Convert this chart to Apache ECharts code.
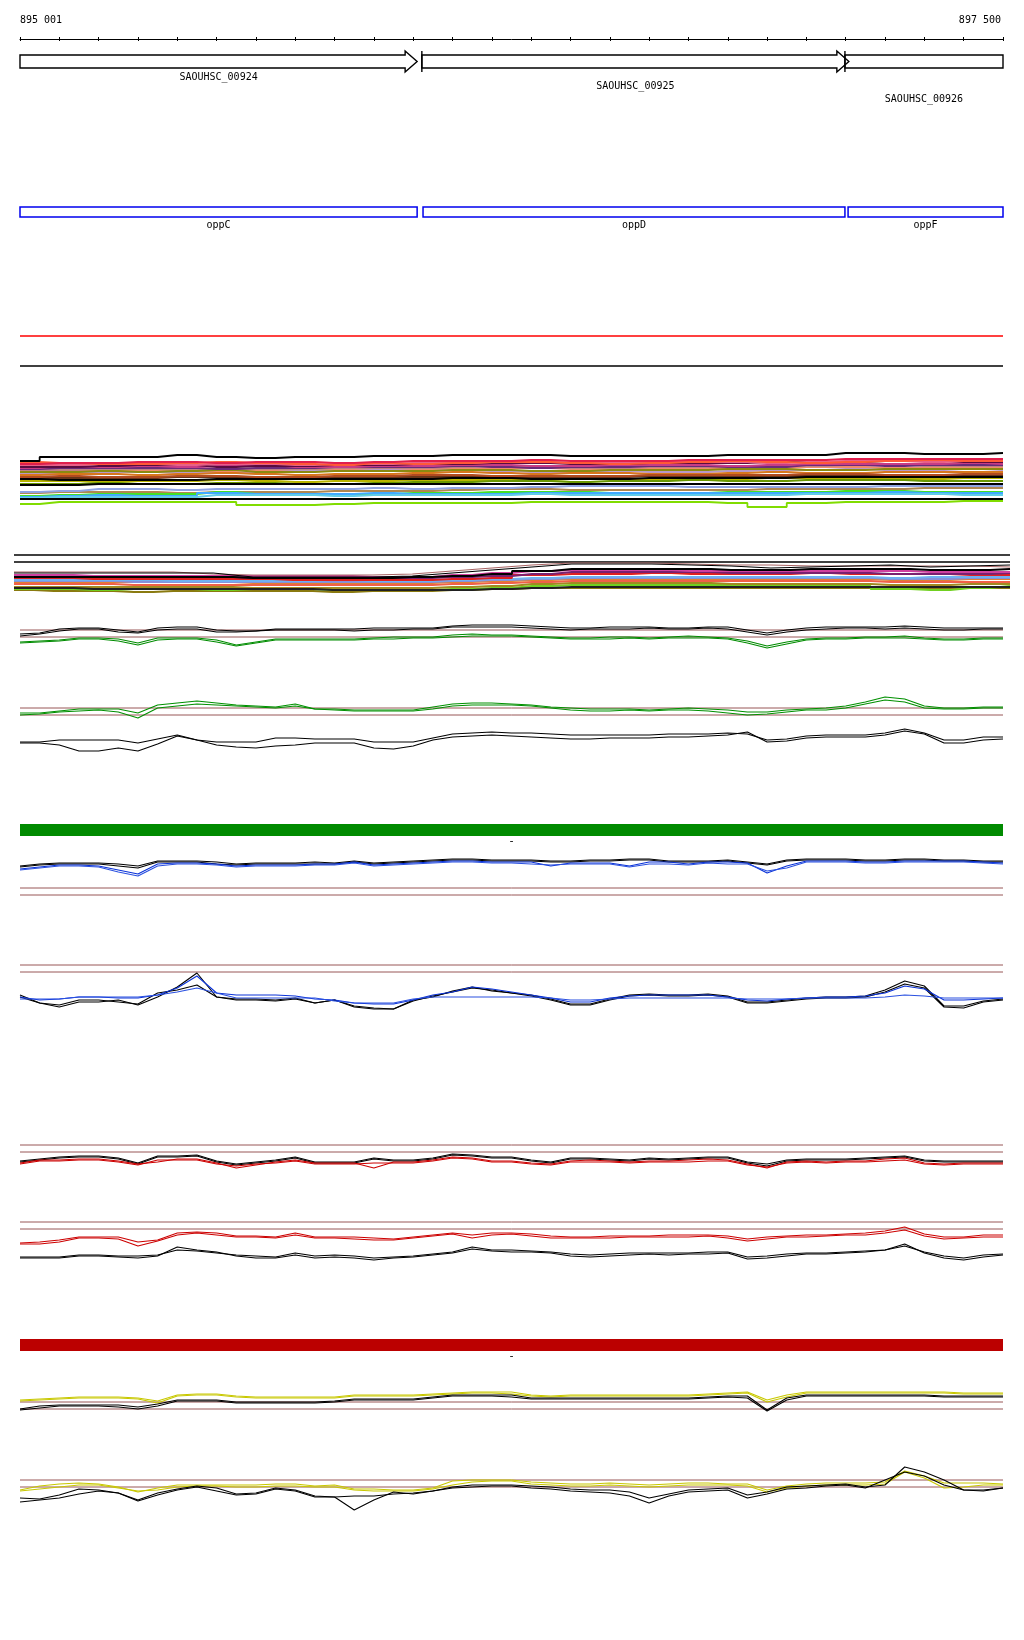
<!DOCTYPE html>
<html>
<head>
<meta charset="utf-8">
<title>895 001 - 897 500</title>
<script src="https://cdn.jsdelivr.net/npm/echarts@6/dist/echarts.min.js"></script>
<style>
  html, body { margin: 0; padding: 0; background: #fff; }
  #chart { width: 1024px; height: 1640px; }
</style>
</head>
<body>
<div id="chart"></div>
<script>
// positions are bp offsets from 895 000
const regionLabels = ['895 001', '897 500']

const geneNames = ['SAOUHSC_00924', 'SAOUHSC_00925', 'SAOUHSC_00926']
const geneStarts = [0, 1022, 2098]
const geneEnds = [1010, 2108, 2500]

const protNames = ['oppC', 'oppD', 'oppF']
const protStarts = [0, 1025, 2106]
const protEnds = [1010, 2098, 2500]

const barLabels = ['-', '-']
const barSpan = [0, 2500]

const P50 = [0,50,100,150,200,250,300,350,400,450,500,550,600,650,700,750,800,850,900,950,
  1000,1050,1100,1150,1200,1250,1300,1350,1400,1450,1500,1550,1600,1650,1700,1750,1800,1850,1900,1950,
  2000,2050,2100,2150,2200,2250,2300,2350,2400,2450,2500]
const P100 = [0,100,200,300,400,500,600,700,800,900,1000,1100,1200,1300,1400,1500,1600,1700,1800,1900,
  2000,2100,2200,2300,2400,2500]

// separator lines
const sepRed = 1.5
const sepBlack = -1.5

// band A (stacked profiles)
const aBlack1 = [1.9,2.3,2.3,2.3,2.5,2.3,2.2,2.3,2.3,2.4,2.4,2.5,2.5,2.5,2.4,2.4,2.4,2.4,2.5,2.5,2.5,2.7,2.7,2.6,2.6,2.7]
const aCrimson = [1.6,1.7,1.7,1.8,1.8,1.7,1.8,1.8,1.7,1.8,1.9,1.9,1.9,2.0,1.9,1.9,1.9,2.0,2.0,2.0,2.0,2.1,2.1,2.1,2.1,2.1]
const aPink = [1.5,1.5,1.6,1.6,1.5,1.6,1.6,1.5,1.6,1.6,1.7,1.7,1.8,1.8,1.7,1.7,1.8,1.8,1.8,1.7,1.8,1.9,1.9,1.8,1.9,1.9]
const aMaroon = [1.3,1.3,1.4,1.5,1.5,1.3,1.4,1.4,1.5,1.5,1.6,1.6,1.7,1.7,1.6,1.6,1.7,1.7,1.7,1.8,1.8,1.8,1.9,1.9,1.8,1.8]
const aMagenta = [1.2,1.4,1.3,1.4,1.3,1.4,1.5,1.3,1.3,1.4,1.4,1.5,1.5,1.4,1.4,1.5,1.5,1.5,1.4,1.5,1.6,1.6,1.6,1.6,1.7,1.6]
const aPurple = [1.1,1.2,1.2,1.2,1.2,1.1,1.2,1.2,1.3,1.3,1.3,1.4,1.3,1.2,1.3,1.3,1.4,1.4,1.3,1.3,1.5,1.5,1.4,1.5,1.5,1.5]
const aOrangeRed = [1.8,1.7,1.6,1.6,1.7,1.8,1.7,1.6,1.5,1.7,1.6,1.7,1.8,1.8,1.7,1.6,1.7,1.8,1.9,1.8,1.7,1.8,1.9,2.0,1.9,1.9]
const aRosy = [1.0,1.0,1.1,1.1,1.0,1.0,1.1,1.1,1.2,1.2,1.2,1.3,1.4,1.3,1.2,1.2,1.3,1.3,1.4,1.4,1.4,1.5,1.5,1.4,1.4,1.4]
const aSalmon = [0.9,0.9,1.0,1.0,0.9,0.9,1.0,1.0,1.0,1.1,1.1,1.1,1.2,1.2,1.1,1.1,1.1,1.2,1.2,1.2,1.3,1.3,1.2,1.2,1.3,1.3]
const aOlive = [0.8,0.8,0.9,0.8,0.9,1.0,0.8,0.8,0.9,0.9,0.9,1.0,1.0,0.9,0.9,1.0,1.0,1.0,1.1,1.1,1.0,1.0,1.1,1.1,1.1,1.1]
const aOrange = [0.5,0.6,0.6,0.5,0.6,0.7,0.6,0.5,0.6,0.6,0.7,0.8,0.7,0.6,0.7,0.7,0.6,0.6,0.7,0.8,0.7,0.7,0.8,0.8,0.8,0.8]
const aMauve = [0.6,0.7,0.8,0.8,0.7,0.7,0.8,0.9,0.9,1.0,0.9,1.0,0.9,0.8,0.8,0.9,0.8,0.8,0.9,1.0,1.0,1.1,1.0,1.0,1.1,1.0]
const aBrownRed = [0.3,0.4,0.3,0.3,0.4,0.4,0.3,0.3,0.4,0.4,0.5,0.5,0.4,0.4,0.4,0.4,0.5,0.5,0.5,0.5,0.6,0.6,0.5,0.5,0.6,0.6]
const aDarkBrown = [0.2,0.2,0.2,0.2,0.3,0.3,0.2,0.2,0.2,0.3,0.3,0.3,0.3,0.3,0.3,0.3,0.4,0.4,0.4,0.4,0.4,0.4,0.4,0.4,0.4,0.5]
const aBlack2 = [0.1,0.0,0.0,0.0,0.0,0.1,0.1,0.1,0.1,0.1,0.1,0.2,0.2,0.1,0.1,0.1,0.2,0.2,0.2,0.2,0.3,0.3,0.3,0.3,0.3,0.3]
const aGold = [-0.1,-0.1,-0.2,-0.1,-0.1,0.0,-0.1,-0.2,-0.1,-0.1,0.0,0.0,0.0,0.0,0.1,0.1,0.1,0.1,0.1,0.2,0.2,0.2,0.1,0.1,0.2,0.2]
const aOliveGreen = [-0.4,-0.4,-0.3,-0.4,-0.4,-0.3,-0.3,-0.4,-0.4,-0.3,-0.2,-0.2,-0.1,-0.1,-0.2,-0.1,-0.1,0.0,-0.1,-0.1,0.0,0.0,0.0,-0.1,-0.1,-0.1]
const aBlack3 = [-0.5,-0.5,-0.4,-0.4,-0.4,-0.4,-0.4,-0.4,-0.4,-0.4,-0.4,-0.4,-0.4,-0.4,-0.4,-0.4,-0.4,-0.4,-0.4,-0.4,-0.4,-0.4,-0.4,-0.4,-0.4,-0.4]
const aPeriwinkle = [-1.2,-1.1,-0.9,-0.9,-1.0,-0.9,-0.9,-0.9,-0.9,-0.8,-0.9,-0.8,-0.8,-0.7,-0.6,-0.6,-0.6,-0.7,-0.7,-0.7,-0.7,-0.7,-0.6,-0.6,-0.6,-0.6]
const aTan = [-1.3,-1.2,-1.2,-1.2,-1.3,-1.2,-1.2,-1.2,-1.1,-1.1,-1.1,-1.0,-0.9,-0.9,-1.0,-1.0,-1.0,-1.0,-1.0,-0.9,-0.9,-0.9,-0.9,-0.8,-0.8,-0.8]
const aGreen = [-1.6,-1.5,-1.4,-1.4,-1.4,-1.2,-1.4,-1.5,-1.4,-1.4,-1.3,-1.3,-1.2,-1.2,-1.2,-1.3,-1.3,-1.3,-1.2,-1.2,-1.2,-1.1,-1.1,-1.2,-1.2,-1.2]
const aLightBlue = [-1.7,-1.6,-1.5,-1.6,-1.6,-1.3,-1.4,-1.4,-1.4,-1.3,-1.4,-1.4,-1.4,-1.3,-1.3,-1.3,-1.3,-1.3,-1.3,-1.3,-1.3,-1.3,-1.2,-1.3,-1.3,-1.3]
const aCyan = [-1.8,-1.7,-1.7,-1.7,-1.7,-1.5,-1.5,-1.5,-1.6,-1.5,-1.5,-1.5,-1.5,-1.4,-1.5,-1.5,-1.5,-1.5,-1.5,-1.5,-1.4,-1.4,-1.4,-1.4,-1.5,-1.5]
const aBlack4 = [-1.9,-1.9,-1.9,-1.9,-1.9,-1.9,-1.9,-1.9,-1.9,-1.9,-1.9,-1.9,-1.9,-1.9,-1.9,-1.9,-1.9,-1.9,-1.9,-1.9,-1.9,-1.9,-1.9,-1.9,-1.9,-1.9]
const aLime = [-2.4,-2.2,-2.2,-2.2,-2.2,-2.2,-2.5,-2.5,-2.4,-2.3,-2.3,-2.3,-2.3,-2.2,-2.2,-2.2,-2.2,-2.2,-2.3,-2.7,-2.3,-2.2,-2.2,-2.2,-2.1,-2.1]

// band B
const bFlat = [2.0, 1.3]
const bBlackTop = [0.2,0.2,0.2,0.2,0.2,0.2,-0.2,-0.2,-0.2,-0.2,-0.1,0.2,0.5,0.8,1.1,1.1,1.1,1.0,0.9,0.7,0.8,0.9,1.0,0.8,0.9,1.0]
const bRosyTop = [0.3,0.3,0.3,0.3,0.3,0.1,0.0,0.0,0.0,0.0,0.1,0.4,0.7,1.0,1.2,1.2,1.2,1.1,1.0,1.0,0.9,0.9,0.9,0.9,0.9,0.8]
const bBlack2 = [-0.2,-0.2,-0.2,-0.2,-0.2,-0.2,-0.3,-0.3,-0.3,-0.3,-0.2,-0.1,0.1,0.4,0.6,0.6,0.6,0.6,0.5,0.5,0.6,0.6,0.6,0.5,0.5,0.6]
const bMagenta = [0.0,0.0,-0.1,-0.1,-0.1,-0.1,-0.1,-0.1,-0.1,-0.2,-0.2,0.0,0.2,0.4,0.5,0.5,0.5,0.4,0.4,0.4,0.4,0.4,0.4,0.3,0.3,0.3]
const bPurple = [-0.1,-0.2,-0.2,-0.2,-0.2,-0.2,-0.3,-0.3,-0.3,-0.3,-0.3,-0.2,-0.1,0.1,0.3,0.3,0.3,0.3,0.2,0.2,0.2,0.2,0.1,0.1,0.1,0.2]
const bRed = [-0.3,-0.3,-0.4,-0.4,-0.4,-0.4,-0.4,-0.5,-0.5,-0.5,-0.5,-0.4,-0.3,0.0,0.1,0.1,0.2,0.1,0.1,0.1,0.2,0.1,0.1,0.1,0.0,0.0]
const bLightBlue = [-0.5,-0.5,-0.5,-0.5,-0.6,-0.6,-0.6,-0.6,-0.5,-0.6,-0.6,-0.5,-0.4,-0.3,-0.2,-0.2,-0.2,-0.2,-0.2,-0.2,-0.2,-0.2,-0.3,-0.2,-0.2,-0.2]
const bPeriwinkle = [-0.6,-0.6,-0.6,-0.7,-0.7,-0.7,-0.7,-0.7,-0.7,-0.7,-0.7,-0.6,-0.5,-0.4,-0.3,-0.3,-0.3,-0.3,-0.3,-0.3,-0.3,-0.3,-0.4,-0.4,-0.3,-0.3]
const bOrange = [-0.7,-0.7,-0.7,-0.7,-0.7,-0.7,-0.8,-0.8,-0.8,-0.8,-0.8,-0.7,-0.6,-0.5,-0.4,-0.4,-0.4,-0.4,-0.4,-0.4,-0.4,-0.4,-0.5,-0.5,-0.4,-0.4]
const bCoral = [-0.9,-0.9,-0.9,-1.0,-1.0,-1.0,-1.0,-1.0,-1.0,-1.0,-1.0,-0.9,-0.8,-0.7,-0.6,-0.6,-0.6,-0.6,-0.6,-0.6,-0.6,-0.6,-0.7,-0.7,-0.7,-0.7]
const bOlive = [-1.2,-1.2,-1.2,-1.2,-1.2,-1.2,-1.3,-1.3,-1.3,-1.3,-1.3,-1.2,-1.1,-0.9,-0.8,-0.8,-0.8,-0.8,-0.9,-0.9,-0.9,-0.9,-1.0,-1.0,-0.9,-0.9]
const bBlackLow = [-1.3,-1.3,-1.4,-1.4,-1.4,-1.4,-1.4,-1.4,-1.5,-1.5,-1.5,-1.5,-1.4,-1.3,-1.2,-1.2,-1.2,-1.2,-1.2,-1.2,-1.2,-1.2,-1.2,-1.2,-1.2,-1.2]
const bLime = [-1.4,-1.4,-1.5,-1.4,-1.4,-1.5,-1.4,-1.4,-1.5,-1.5,-1.5,-1.4,-1.3,-1.1,-1.0,-1.0,-1.0,-1.0,-1.0,-1.1,-1.1,-1.1,-1.4,-1.5,-1.3,-1.1]
const bBrownOlive = [-1.5,-1.6,-1.6,-1.7,-1.6,-1.6,-1.6,-1.6,-1.7,-1.6,-1.6,-1.5,-1.4,-1.3,-1.3,-1.3,-1.3,-1.3,-1.3,-1.3,-1.3,-1.3,-1.3,-1.3,-1.3,-1.3]

// track C
const cRefs = [0.5, -0.2]
const cBlack1 = [0.1,0.2,0.6,0.7,0.7,0.5,0.3,0.7,0.8,0.8, 0.5,0.4,0.4,0.6,0.6,0.6,0.6,0.6,0.7,0.7, 0.7,0.7,0.9,1.0,1.0,1.0,0.9,0.8,0.7,0.7, 0.8,0.8,0.8,0.7,0.7,0.8,0.8,0.5,0.2,0.5, 0.7,0.8,0.8,0.8,0.8,0.9,0.8,0.7,0.7,0.7, 0.7]
const cBlack2 = [-0.1,0.1,0.4,0.6,0.6,0.3,0.2,0.5,0.6,0.6, 0.3,0.3,0.4,0.5,0.5,0.5,0.5,0.4,0.5,0.5, 0.6,0.6,0.8,0.8,0.8,0.8,0.7,0.6,0.5,0.6, 0.6,0.6,0.7,0.6,0.6,0.7,0.6,0.3,0.0,0.3, 0.5,0.6,0.7,0.7,0.6,0.7,0.6,0.5,0.5,0.6, 0.6]
const cGreen1 = [-0.7,-0.6,-0.5,-0.3,-0.3,-0.4,-0.8,-0.3,-0.3,-0.3, -0.5,-1.0,-0.7,-0.4,-0.4,-0.4,-0.4,-0.4,-0.3,-0.2, -0.2,-0.2,0.0,0.1,0.0,0.0,-0.1,-0.2,-0.3,-0.3, -0.2,-0.2,-0.3,-0.2,-0.1,-0.2,-0.3,-0.6,-1.1,-0.7, -0.4,-0.3,-0.3,-0.2,-0.2,-0.1,-0.3,-0.4,-0.4,-0.3, -0.3]
const cGreen2 = [-0.8,-0.7,-0.6,-0.4,-0.4,-0.6,-1.0,-0.5,-0.4,-0.4, -0.7,-1.1,-0.8,-0.5,-0.5,-0.5,-0.5,-0.5,-0.4,-0.4, -0.3,-0.3,-0.2,-0.1,-0.1,-0.1,-0.2,-0.3,-0.4,-0.4, -0.4,-0.3,-0.4,-0.3,-0.3,-0.3,-0.4,-0.8,-1.3,-0.9, -0.5,-0.4,-0.4,-0.3,-0.3,-0.3,-0.4,-0.5,-0.5,-0.4, -0.4]

// track D
const dRefs = [0.2, -0.5]
const dGreen1 = [-0.3,-0.3,-0.1,0.1,0.1,0.1,-0.3,0.5,0.7,0.9, 0.7,0.5,0.4,0.3,0.6,0.1,0.1,0.0,0.0,0.0, 0.0,0.3,0.6,0.7,0.7,0.6,0.5,0.3,0.2,0.1, 0.1,0.1,0.0,0.1,0.2,0.1,0.0,-0.2,-0.2,0.0, 0.1,0.2,0.4,0.8,1.3,1.1,0.4,0.2,0.2,0.3, 0.3]
const dGreen2 = [-0.5,-0.4,-0.2,-0.1,0.0,-0.2,-0.8,0.2,0.4,0.6, 0.5,0.4,0.3,0.2,0.4,0.1,0.0,-0.1,-0.1,-0.1, -0.1,0.1,0.4,0.5,0.5,0.5,0.4,0.2,0.0,-0.1, -0.1,0.0,-0.1,0.0,0.0,-0.1,-0.3,-0.5,-0.4,-0.2, 0.0,0.0,0.2,0.6,1.0,0.8,0.2,0.1,0.1,0.2, 0.2]

// track E
const eBlack1 = [-0.2,-0.2,0.0,0.0,0.0,0.0,-0.3,0.1,0.5,0.0, -0.2,-0.2,-0.2,0.2,0.2,0.1,0.1,0.1,-0.2,-0.2, -0.2,0.2,0.6,0.7,0.8,0.7,0.7,0.6,0.5,0.5, 0.5,0.5,0.5,0.6,0.6,0.6,0.7,0.6,0.0,0.1, 0.4,0.5,0.5,0.5,0.7,1.1,0.7,0.0,0.0,0.3, 0.3]
const eBlack2 = [-0.3,-0.3,-0.5,-1.1,-1.1,-0.8,-1.1,-0.4,0.4,0.0, -0.5,-0.7,-0.8,-0.6,-0.5,-0.3,-0.3,-0.3,-0.8,-0.9, -0.6,0.0,0.3,0.4,0.5,0.4,0.3,0.2,0.1,0.1, 0.2,0.2,0.2,0.3,0.3,0.4,0.5,0.8,-0.2,-0.1, 0.2,0.3,0.3,0.3,0.5,0.9,0.6,-0.3,-0.3,0.0, 0.1]

// track G
const gRefs = [-2.3, -3.0]
const gBlack1 = [-0.1,0.1,0.2,0.2,0.2,0.1,-0.1,0.4,0.4,0.4, 0.3,0.1,0.2,0.2,0.2,0.3,0.2,0.4,0.2,0.3, 0.4,0.5,0.6,0.6,0.5,0.5,0.5,0.4,0.4,0.5, 0.5,0.6,0.6,0.4,0.4,0.4,0.5,0.3,0.1,0.5, 0.6,0.6,0.6,0.5,0.5,0.6,0.6,0.5,0.5,0.4, 0.4]
const gBlack2 = [-0.2,0.0,0.1,0.1,0.1,-0.1,-0.3,0.3,0.3,0.3, 0.1,0.0,0.1,0.1,0.1,0.1,0.1,0.3,0.1,0.2, 0.3,0.4,0.5,0.5,0.4,0.4,0.4,0.3,0.3,0.4, 0.4,0.5,0.5,0.3,0.3,0.3,0.4,0.2,0.0,0.4, 0.5,0.5,0.5,0.4,0.4,0.5,0.5,0.4,0.4,0.3, 0.3]
const gBlue1 = [-0.4,-0.2,0.0,0.0,-0.1,-0.5,-0.9,0.1,0.2,0.2, 0.1,-0.1,0.0,0.0,0.0,0.1,0.1,0.3,0.0,0.1, 0.2,0.3,0.4,0.4,0.3,0.3,0.3,-0.1,0.2,0.2, 0.2,-0.1,0.3,0.3,0.1,0.3,0.3,0.2,-0.8,-0.1, 0.4,0.4,0.4,0.3,0.3,0.4,0.4,0.4,0.4,0.3, 0.2]
const gBlue2 = [-0.5,-0.3,-0.1,-0.1,-0.2,-0.7,-1.1,-0.1,0.1,0.1, 0.0,-0.2,-0.1,-0.1,-0.1,0.0,0.0,0.2,-0.1,0.0, 0.1,0.2,0.3,0.3,0.2,0.2,0.1,0.0,0.1,0.1, 0.1,-0.2,0.1,0.1,0.0,0.2,0.1,0.1,-0.6,-0.3, 0.3,0.3,0.3,0.2,0.2,0.3,0.3,0.3,0.3,0.2, 0.1]

// track H
const hRefs = [2.5, 1.8]
const hBlack1 = [-0.5,-1.3,-1.7,-1.2,-1.2,-1.0,-1.5,-0.7,0.3,1.7, -0.7,-0.9,-0.9,-1.0,-0.8,-1.3,-1.0,-1.6,-1.8,-1.9, -1.0,-0.7,-0.1,0.3,-0.1,-0.3,-0.5,-0.9,-1.4,-1.4, -0.9,-0.5,-0.4,-0.5,-0.5,-0.4,-0.6,-1.2,-1.2,-1.0, -0.8,-0.7,-0.7,-0.6,0.0,0.9,0.4,-1.6,-1.6,-1.1, -0.9]
const hBlack2 = [-0.7,-1.3,-1.5,-1.0,-1.0,-1.2,-1.4,-0.3,0.0,0.5, -0.7,-1.0,-1.0,-1.1,-0.9,-1.3,-1.0,-1.7,-1.9,-1.9, -1.1,-0.6,-0.2,0.2,0.0,-0.3,-0.6,-1.0,-1.5,-1.5, -1.0,-0.6,-0.5,-0.6,-0.6,-0.5,-0.7,-1.3,-1.3,-1.1, -0.9,-0.8,-0.8,-0.7,-0.2,0.6,0.2,-1.7,-1.8,-1.2, -1.0]
const hBlue1 = [-0.7,-1.0,-0.9,-0.7,-0.7,-0.8,-0.8,-0.5,0.2,1.4, -0.3,-0.5,-0.5,-0.5,-0.6,-0.9,-1.0,-1.3,-1.4,-1.4, -1.0,-0.5,-0.2,0.3,0.1,-0.2,-0.5,-0.8,-1.2,-1.2, -0.8,-0.6,-0.5,-0.5,-0.5,-0.5,-0.7,-1.0,-1.1,-0.9, -0.8,-0.7,-0.7,-0.6,-0.3,0.4,0.1,-1.0,-1.0,-0.9, -0.8]
const hBlue2 = [-0.9,-0.9,-0.9,-0.7,-0.7,-0.7,-0.7,-0.5,-0.2,0.2, -0.3,-0.8,-0.8,-0.8,-0.8,-0.8,-1.1,-1.3,-1.3,-1.3, -0.9,-0.7,-0.7,-0.7,-0.7,-0.7,-0.7,-0.8,-1.0,-1.0, -0.9,-0.8,-0.8,-0.8,-0.8,-0.8,-0.8,-0.9,-0.9,-0.9, -0.8,-0.8,-0.8,-0.8,-0.7,-0.5,-0.6,-0.8,-0.8,-0.8, -0.8]

// track I
const iRefs = [1.5, 0.8]
const iBlack1 = [-0.1,0.1,0.3,0.4,0.4,0.2,-0.3,0.4,0.4,0.5, -0.1,-0.4,-0.2,0.0,0.3,-0.2,-0.2,-0.2,0.2,0.0, 0.0,0.2,0.6,0.5,0.3,0.3,0.0,-0.2,0.2,0.2, 0.1,0.0,0.2,0.1,0.2,0.3,0.3,-0.2,-0.4,0.0, 0.1,0.1,0.1,0.2,0.3,0.4,0.0,-0.1,-0.1,-0.1, -0.1]
const iBlack2 = [-0.2,0.0,0.2,0.3,0.3,0.1,-0.4,0.3,0.3,0.4, -0.2,-0.5,-0.3,-0.1,0.2,-0.3,-0.3,-0.3,0.1,-0.1, -0.1,0.1,0.5,0.4,0.2,0.2,-0.1,-0.3,0.1,0.1, 0.0,-0.1,0.1,0.0,0.1,0.2,0.2,-0.3,-0.6,-0.1, 0.0,0.0,0.0,0.1,0.2,0.3,-0.1,-0.2,-0.2,-0.2, -0.2]
const iRed1 = [-0.3,0.0,0.0,0.1,0.1,-0.1,-0.4,-0.2,0.1,0.1, -0.3,-0.8,-0.5,-0.2,0.0,-0.3,-0.3,-0.3,-0.8,-0.2, -0.2,0.0,0.3,0.2,-0.1,-0.1,-0.3,-0.4,-0.1,0.0, -0.1,-0.2,-0.1,-0.1,0.0,0.1,0.0,-0.4,-0.8,-0.2, -0.1,-0.2,-0.1,-0.1,0.1,0.2,-0.3,-0.4,-0.3,-0.3, -0.3]
const iRed2 = [-0.4,-0.1,-0.1,0.0,0.0,-0.2,-0.5,0.0,0.0,0.0, -0.4,-0.6,-0.4,-0.3,-0.1,-0.4,-0.4,-0.4,-0.3,-0.3, -0.3,-0.1,0.2,0.1,-0.2,-0.2,-0.4,-0.5,-0.2,-0.2, -0.2,-0.3,-0.2,-0.2,-0.2,-0.1,-0.1,-0.5,-0.7,-0.3, -0.2,-0.3,-0.2,-0.2,-0.1,0.0,-0.4,-0.5,-0.4,-0.4, -0.4]

// track J
const jRefs = [1.8, 1.1]
const jRed1 = [-0.3,-0.2,0.0,0.3,0.3,0.3,-0.2,0.0,0.7,0.8, 0.7,0.4,0.4,0.3,0.7,0.3,0.3,0.3,0.2,0.1, 0.3,0.5,0.7,0.5,0.7,0.7,0.6,0.4,0.3,0.3, 0.4,0.4,0.4,0.5,0.5,0.5,0.4,0.1,0.3,0.4, 0.5,0.5,0.6,0.7,0.9,1.3,0.6,0.3,0.3,0.5, 0.5]
const jRed2 = [-0.4,-0.4,-0.2,0.2,0.2,0.1,-0.6,-0.1,0.5,0.7, 0.5,0.3,0.3,0.2,0.5,0.2,0.2,0.1,0.0,0.0, 0.2,0.4,0.6,0.2,0.5,0.6,0.4,0.2,0.2,0.2, 0.2,0.3,0.3,0.3,0.3,0.4,0.2,-0.1,0.1,0.3, 0.3,0.4,0.5,0.5,0.7,1.0,0.4,0.1,0.2,0.3, 0.3]
const jBlack1 = [-1.7,-1.7,-1.7,-1.5,-1.5,-1.6,-1.6,-1.5,-1.0,-1.1, -1.3,-1.5,-1.6,-1.7,-1.3,-1.6,-1.5,-1.6,-1.8,-1.7, -1.6,-1.4,-1.2,-0.7,-1.0,-1.0,-1.1,-1.2,-1.4,-1.5, -1.4,-1.3,-1.3,-1.3,-1.3,-1.2,-1.2,-1.7,-1.6,-1.4, -1.3,-1.3,-1.2,-1.1,-1.0,-0.6,-1.2,-1.6,-1.8,-1.5, -1.4]
const jBlack2 = [-1.8,-1.8,-1.8,-1.6,-1.6,-1.7,-1.8,-1.6,-0.7,-1.0, -1.2,-1.6,-1.8,-1.8,-1.5,-1.8,-1.7,-1.8,-2.0,-1.8, -1.7,-1.5,-1.3,-0.9,-1.1,-1.2,-1.2,-1.3,-1.6,-1.7, -1.6,-1.5,-1.4,-1.5,-1.4,-1.4,-1.3,-1.9,-1.8,-1.6, -1.4,-1.4,-1.3,-1.2,-1.0,-0.4,-1.3,-1.8,-2.0,-1.7, -1.5]

// track L
const lRefs = [-0.2, -0.9]
const lYellow1 = [0.0,0.1,0.2,0.3,0.3,0.3,0.2,-0.1,0.5,0.6, 0.6,0.4,0.3,0.3,0.3,0.3,0.3,0.5,0.5,0.5, 0.5,0.6,0.7,0.8,0.8,0.8,0.5,0.4,0.5,0.5, 0.5,0.5,0.5,0.5,0.5,0.6,0.7,0.8,0.0,0.5, 0.8,0.8,0.8,0.8,0.8,0.8,0.8,0.8,0.7,0.7, 0.7]
const lYellow2 = [-0.1,0.0,0.1,0.2,0.2,0.2,0.1,-0.3,0.4,0.5, 0.5,0.3,0.2,0.2,0.2,0.2,0.2,0.4,0.4,0.4, 0.4,0.5,0.6,0.7,0.7,0.6,0.4,0.3,0.4,0.4, 0.4,0.4,0.4,0.4,0.4,0.5,0.6,0.7,-0.2,0.3, 0.7,0.7,0.7,0.7,0.7,0.7,0.7,0.7,0.6,0.6, 0.6]
const lBlack1 = [-0.9,-0.6,-0.5,-0.5,-0.5,-0.5,-0.7,-0.4,0.0,0.0, 0.0,-0.2,-0.2,-0.2,-0.2,-0.2,-0.1,0.1,0.1,0.1, 0.1,0.3,0.5,0.5,0.5,0.5,0.2,0.2,0.2,0.2, 0.2,0.2,0.2,0.2,0.2,0.3,0.4,0.4,-1.0,0.2, 0.5,0.5,0.5,0.5,0.5,0.5,0.5,0.4,0.4,0.4, 0.4]
const lBlack2 = [-1.0,-0.8,-0.6,-0.6,-0.6,-0.7,-0.9,-0.6,-0.1,-0.1, -0.1,-0.3,-0.3,-0.3,-0.3,-0.3,-0.2,0.0,0.0,0.0, 0.0,0.2,0.4,0.4,0.4,0.3,0.1,0.1,0.1,0.1, 0.1,0.1,0.1,0.1,0.1,0.2,0.3,0.2,-1.1,0.0, 0.4,0.4,0.4,0.4,0.4,0.4,0.4,0.3,0.3,0.3, 0.3]

// track M
const mRefs = [1.0, 0.3]
const mYellow1 = [0.0,0.4,0.6,0.7,0.6,0.3,-0.2,0.2,0.5,0.5, 0.5,0.5,0.5,0.6,0.6,0.4,0.5,0.1,0.1,0.0, 0.0,0.2,0.9,1.0,1.0,1.0,0.8,0.7,0.6,0.6, 0.7,0.6,0.5,0.6,0.7,0.7,0.6,0.6,0.0,0.4, 0.6,0.7,0.7,0.7,0.8,1.9,1.4,0.7,0.7,0.7, 0.6]
const mYellow2 = [-0.1,0.1,0.3,0.5,0.5,0.2,-0.1,0.0,0.3,0.4, 0.4,0.3,0.3,0.4,0.4,0.3,0.3,0.0,-0.1,-0.1, -0.1,0.1,0.5,0.8,0.9,0.9,0.6,0.5,0.4,0.4, 0.5,0.4,0.3,0.4,0.5,0.5,0.5,0.4,-0.2,0.2, 0.4,0.5,0.5,0.5,0.6,1.8,1.2,0.2,0.3,0.5, 0.5]
const mBlack1 = [-0.8,-0.9,-0.5,0.1,0.0,-0.3,-1.0,-0.3,0.1,0.4, 0.2,-0.4,-0.3,0.2,0.0,-0.6,-0.7,-0.6,-0.6,-0.4, -0.3,-0.1,0.3,0.5,0.5,0.5,0.4,0.3,0.1,0.0, 0.0,-0.2,-0.8,-0.4,0.0,0.1,0.2,-0.5,-0.2,0.3, 0.4,0.5,0.6,0.3,0.5,2.3,1.8,1.0,0.0,-0.1, 0.2]
const mBlack2 = [-1.2,-1.0,-0.8,-0.4,-0.1,-0.3,-1.1,-0.5,0.0,0.3, -0.1,-0.5,-0.4,0.1,-0.1,-0.7,-0.7,-2.0,-1.0,-0.2, -0.4,-0.1,0.2,0.3,0.4,0.4,0.2,0.1,-0.1,-0.2, -0.3,-0.6,-1.3,-0.6,-0.2,-0.1,0.0,-0.8,-0.4,0.1, 0.2,0.4,0.5,0.2,1.0,1.8,1.4,0.5,0.0,0.0, 0.2]

const FONT = '10px "DejaVu Sans Mono", monospace'
const REF = '#985656'

const grids = []
const xAxes = []
const yAxes = []
const series = []

function addGrid(top, height, yMin, yMax, left, right) {
  grids.push({ left: left == null ? 20 : left, right: right == null ? 21 : right, top, height,
    containLabel: false, outerBoundsMode: 'none', show: false })
  const gi = grids.length - 1
  xAxes.push({ type: 'value', gridIndex: gi, min: 0, max: 2500, show: false })
  yAxes.push({ type: 'value', gridIndex: gi, min: yMin, max: yMax, show: false })
  return { x: xAxes.length - 1, y: yAxes.length - 1 }
}
function line(ax, xs, vals, color, width, step) {
  series.push({
    type: 'line', xAxisIndex: ax.x, yAxisIndex: ax.y,
    data: xs.map((x, k) => [x, vals[k]]),
    symbol: 'none', showSymbol: false, silent: true, animation: false,
    step: step || false, clip: false,
    lineStyle: { color, width: width || 1.1 }, z: 3
  })
}
function flat(ax, v, color, width) {
  series.push({
    type: 'line', xAxisIndex: ax.x, yAxisIndex: ax.y,
    data: [[0, v], [2500, v]],
    symbol: 'none', showSymbol: false, silent: true, animation: false,
    lineStyle: { color, width: width || 1 }, z: 2
  })
}

// ruler: a 1px grid with ticks on both edges
grids.push({ left: 20, right: 21, top: 38, height: 1, containLabel: false, outerBoundsMode: 'none', show: false })
xAxes.push({
  type: 'value', gridIndex: 0, position: 'top', min: 0, max: 2500, interval: 100,
  axisLine: { show: true, lineStyle: { color: '#000', width: 1 } },
  axisTick: { show: true, length: 2, lineStyle: { color: '#000' } },
  axisLabel: { show: false }, splitLine: { show: false }
})
xAxes.push({
  type: 'value', gridIndex: 0, position: 'bottom', min: 0, max: 2500, interval: 100,
  axisLine: { show: false },
  axisTick: { show: true, length: 2, lineStyle: { color: '#000' } },
  axisLabel: { show: false }, splitLine: { show: false }
})
yAxes.push({ type: 'value', gridIndex: 0, show: false })
series.push({ type: 'line', xAxisIndex: 0, yAxisIndex: 0, data: [], silent: true })

// genes
const geneAx = addGrid(51, 21, 0, 1)
const geneLabelDy = [5, 14, 27]
series.push({
  type: 'custom', xAxisIndex: geneAx.x, yAxisIndex: geneAx.y, silent: true, animation: false, clip: false,
  data: geneStarts.map((s, i) => [s, geneEnds[i], i]),
  renderItem(params, api) {
    const s = api.value(0), e = api.value(1), idx = api.value(2)
    const top = api.coord([s, 1])[1], bot = api.coord([s, 0])[1]
    const x0 = api.coord([s, 0])[0], x1 = api.coord([e, 0])[0]
    const h = bot - top
    const bTop = top + h * 0.19, bBot = bot - h * 0.19, mid = (top + bot) / 2
    const head = e >= 2500 ? 0 : 12
    const pts = [[x0, bTop], [x1 - head, bTop]]
    if (head) pts.push([x1 - head, top], [x1, mid], [x1 - head, bot])
    pts.push([x1 - head, bBot], [x0, bBot])
    const children = [{
      type: 'polygon', shape: { points: pts },
      style: { fill: 'none', stroke: '#000', lineWidth: 1.4 }
    }]
    if (s > 0) children.push({
      type: 'line', shape: { x1: x0, y1: top, x2: x0, y2: bot },
      style: { stroke: '#000', lineWidth: 1.4 }
    })
    children.push({
      type: 'text', x: (x0 + x1) / 2, y: bot + geneLabelDy[idx],
      style: { text: geneNames[idx], font: FONT, fill: '#000', align: 'center', verticalAlign: 'middle' }
    })
    return { type: 'group', children }
  }
})

// protein boxes
const protAx = addGrid(207, 10, 0, 1)
series.push({
  type: 'custom', xAxisIndex: protAx.x, yAxisIndex: protAx.y, silent: true, animation: false, clip: false,
  data: protStarts.map((s, i) => [s, protEnds[i], i]),
  renderItem(params, api) {
    const p0 = api.coord([api.value(0), 1]), p1 = api.coord([api.value(1), 0])
    return { type: 'group', children: [
      { type: 'rect', shape: { x: p0[0], y: p0[1], width: p1[0] - p0[0], height: p1[1] - p0[1] },
        style: { fill: 'none', stroke: '#0000ee', lineWidth: 1.5 } },
      { type: 'text', x: (p0[0] + p1[0]) / 2, y: p1[1] + 8,
        style: { text: protNames[api.value(2)], font: FONT, fill: '#000', align: 'center', verticalAlign: 'middle' } }
    ] }
  }
})

// separators
const sepAx = addGrid(326, 50, -2.5, 2.5)
flat(sepAx, sepRed, '#ff0000', 1.5)
flat(sepAx, sepBlack, '#000000', 1.5)

// band A
const aAx = addGrid(440, 80, -4, 4)
const bandA = [
  [aSalmon, '#f08a6a'], [aRosy, '#c08080'], [aMauve, '#b898c8'], [aOlive, '#8a8a10'], [aOrange, '#d8761c'],
  [aDarkBrown, '#6a3418'], [aBrownRed, '#b04a20'], [aPurple, '#6a2a7a'], [aMagenta, '#c83c84'],
  [aMaroon, '#5a0c40'], [aPink, '#e86088'], [aOrangeRed, '#ff5a36'], [aCrimson, '#e01e4c'],
  [aBlack1, '#000000'], [aGold, '#b8b400'], [aOliveGreen, '#6a9800'], [aBlack2, '#000000'],
  [aBlack3, '#000000'], [aTan, '#b08850'], [aPeriwinkle, '#90a4e4'], [aGreen, '#44e024'],
  [aLightBlue, '#40aaff'], [aCyan, '#60cce8'], [aBlack4, '#000000'], [aLime, '#80dc00']
]
bandA.forEach(([v, c]) => line(aAx, P100, v, c, 1.8, 'middle'))

// band B
const bAx = addGrid(545, 60, -3, 3, 14, 14)
bFlat.forEach(v => flat(bAx, v, '#000000', 1.3))
const bandB = [
  [bBrownOlive, '#8a7a10'], [bLime, '#70d020'], [bOlive, '#a08a20'], [bCoral, '#f06048'],
  [bOrange, '#e08030'], [bPeriwinkle, '#8890d8'], [bLightBlue, '#70b0f0'], [bRed, '#e02020'],
  [bPurple, '#7a2070'], [bMagenta, '#d040a0'], [bBlack2, '#000000'], [bBlackLow, '#202020']
]
bandB.forEach(([v, c]) => line(bAx, P100, v, c, 1.8, 'middle'))
line(bAx, P100, bRosyTop, '#a86464', 1.2)
line(bAx, P100, bBlackTop, '#000000', 1.2)

// track C
const cAx = addGrid(615, 40, -2, 2)
cRefs.forEach(v => flat(cAx, v, REF))
line(cAx, P50, cBlack1, '#000'); line(cAx, P50, cBlack2, '#000')
line(cAx, P50, cGreen1, '#008c00'); line(cAx, P50, cGreen2, '#008c00')

// track D
const dAx = addGrid(690, 40, -2, 2)
dRefs.forEach(v => flat(dAx, v, REF))
line(dAx, P50, dGreen1, '#009000'); line(dAx, P50, dGreen2, '#009000')

// track E
const eAx = addGrid(720, 40, -2, 2)
line(eAx, P50, eBlack1, '#000'); line(eAx, P50, eBlack2, '#000')

// coloured bars
const barSeries = (ax, color, label) => ({
  type: 'custom', xAxisIndex: ax.x, yAxisIndex: ax.y, silent: true, animation: false,
  data: [[barSpan[0], barSpan[1]]],
  renderItem(params, api) {
    const p0 = api.coord([api.value(0), 1]), p1 = api.coord([api.value(1), 0])
    return { type: 'group', children: [
      { type: 'rect', shape: { x: p0[0], y: p0[1], width: p1[0] - p0[0], height: p1[1] - p0[1] }, style: { fill: color } },
      { type: 'text', x: (p0[0] + p1[0]) / 2, y: p1[1] + 5,
        style: { text: label, font: '11px "DejaVu Sans Mono", monospace', fill: '#000', align: 'center', verticalAlign: 'middle' } }
    ] }
  }
})
const gbAx = addGrid(824, 12, 0, 1)
series.push(barSeries(gbAx, '#008a00', barLabels[0]))

// track G
const gAx = addGrid(845, 60, -4, 2)
gRefs.forEach(v => flat(gAx, v, REF))
line(gAx, P50, gBlack1, '#000'); line(gAx, P50, gBlack2, '#000')
line(gAx, P50, gBlue1, '#0a32d8'); line(gAx, P50, gBlue2, '#2a50e0')

// track H
const hAx = addGrid(955, 60, -2.5, 3.5)
hRefs.forEach(v => flat(hAx, v, REF))
line(hAx, P50, hBlack1, '#000'); line(hAx, P50, hBlack2, '#000')
line(hAx, P50, hBlue1, '#0a32d8'); line(hAx, P50, hBlue2, '#2a50e0')

// track I
const iAx = addGrid(1140, 40, -2, 2)
iRefs.forEach(v => flat(iAx, v, REF))
line(iAx, P50, iBlack1, '#000'); line(iAx, P50, iBlack2, '#000')
line(iAx, P50, iRed1, '#cc0000'); line(iAx, P50, iRed2, '#cc0000')

// track J
const jAx = addGrid(1215, 55, -3, 2.5)
jRefs.forEach(v => flat(jAx, v, REF))
line(jAx, P50, jRed1, '#cc0000'); line(jAx, P50, jRed2, '#cc0000')
line(jAx, P50, jBlack1, '#000'); line(jAx, P50, jBlack2, '#000')

// red bar
const rbAx = addGrid(1339, 12, 0, 1)
series.push(barSeries(rbAx, '#bb0000', barLabels[1]))

// track L
const lAx = addGrid(1385, 30, -1.5, 1.5)
lRefs.forEach(v => flat(lAx, v, REF))
line(lAx, P50, lYellow1, '#c8c800'); line(lAx, P50, lYellow2, '#c8c800')
line(lAx, P50, lBlack1, '#000'); line(lAx, P50, lBlack2, '#000')

// track M
const mAx = addGrid(1460, 60, -3, 3)
mRefs.forEach(v => flat(mAx, v, REF))
line(mAx, P50, mYellow1, '#c8c800'); line(mAx, P50, mYellow2, '#c8c800')
line(mAx, P50, mBlack1, '#000'); line(mAx, P50, mBlack2, '#000')

const chart = echarts.init(document.getElementById('chart'))
chart.setOption({
  backgroundColor: '#ffffff',
  animation: false,
  grid: grids,
  xAxis: xAxes,
  yAxis: yAxes,
  series,
  graphic: [
    { type: 'text', left: 20, top: 15, style: { text: regionLabels[0], font: FONT, fill: '#000' } },
    { type: 'text', right: 23, top: 15, style: { text: regionLabels[1], font: FONT, fill: '#000' } }
  ]
})
</script>
</body>
</html>
